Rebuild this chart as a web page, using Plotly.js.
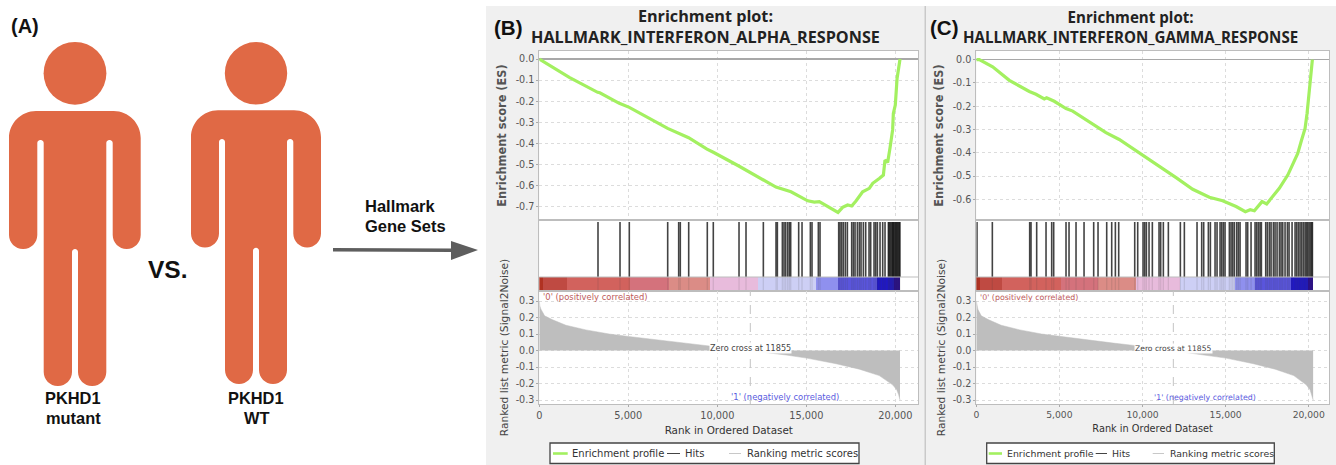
<!DOCTYPE html>
<html><head><meta charset="utf-8">
<script src="https://cdn.plot.ly/plotly-3.0.1.min.js"></script>
<style>html,body{margin:0;padding:0;background:#fff;overflow:hidden}</style>
</head><body><div id="chart" style="width:1336px;height:465px"></div>
<script>
const alphaEsRank=[0,1685,3277,3400,4494,5056,7210,7828,8390,9420,9775,11180,11610,12584,13296,14140,15080,15450,15730,16780,17040,17320,17550,17790,18165,18540,18730,19100,19330,19420,19570,19700,19850,19890,20000,20100,20265];
const alphaEs=[0,-0.087,-0.158,-0.16,-0.21,-0.229,-0.329,-0.352,-0.373,-0.427,-0.442,-0.506,-0.526,-0.573,-0.607,-0.629,-0.672,-0.678,-0.676,-0.727,-0.703,-0.692,-0.697,-0.673,-0.629,-0.613,-0.589,-0.566,-0.55,-0.479,-0.49,-0.423,-0.336,-0.258,-0.218,-0.092,0];
const gammaEsRank=[0,180,983,1986,3190,3590,4090,4230,4690,5400,5800,6800,7800,8600,10010,11010,12020,13020,14020,14820,15630,16190,16480,16730,17190,17470,17830,18230,18740,19040,19340,19540,19780,19900,19980,20080,20220];
const gammaEs=[0,0,-0.031,-0.089,-0.137,-0.149,-0.169,-0.164,-0.179,-0.21,-0.221,-0.267,-0.314,-0.343,-0.41,-0.456,-0.507,-0.557,-0.591,-0.606,-0.631,-0.653,-0.645,-0.649,-0.61,-0.62,-0.589,-0.553,-0.496,-0.453,-0.403,-0.353,-0.296,-0.231,-0.174,-0.089,0];
const alphaHits=[3298,4534,5056,7213,7831,7921,8393,9438,9775,11220,11613,12587,13299,13374,13655,13748,13842,13954,14048,14123,14572,14760,15228,15321,15677,15771,16820,16895,16988,17082,17194,17307,17550,17644,17738,17869,17981,18075,18206,18337,18524,18618,18805,18899,18993,19142,19292,19423,19611,19650,19704,19760,19817,19860,19892,19930,19985,20030,20079,20120,20172,20220,20260];
const gammaHits=[42,965,3212,3292,3633,4195,4536,4656,5398,5579,6000,6482,7063,7324,7846,8147,8367,8568,9531,9711,10032,10133,10233,10393,10592,10994,11094,11254,11555,12277,12518,13280,13561,13682,13962,14083,14364,14484,14665,14765,14865,14966,15226,15327,15427,15527,15668,15768,15869,16229,16329,16530,16771,16871,16971,17072,17152,17413,17513,17633,17734,17874,17974,18095,18235,18335,18436,18576,18717,18817,18998,19178,19278,19379,19479,19580,19680,19780,19860,19940,20020,20100,20181,20221];
const metricRank=[0,30,94,300,750,1500,2620,3930,5020,6370,8240,9740,11855,13860,15020,16670,17980,19100,19850,20080,20190,20265];
const metricScore=[0.3,0.27,0.25,0.21,0.186,0.153,0.125,0.1,0.085,0.068,0.045,0.028,0,-0.027,-0.046,-0.08,-0.113,-0.152,-0.208,-0.238,-0.268,-0.3];
const bandEdges=[0,225,1555,5113,7300,9590,12270,15550,16760,18950,19950,20265];
const bandColors=['#B03222','#BF4A42','#D2625D','#D4727C','#DB8C86','#E8BBDC','#CDCFF5','#8F90EE','#5A55DC','#2018C4','#2A0C90'];
const xTicks=[0,5000,10000,15000,20000];
const xTickText=['0','5,000','10,000','15,000','20,000'];
const alphaEsTicks=[0,-0.1,-0.2,-0.3,-0.4,-0.5,-0.6,-0.7];
const alphaEsText=['0.0','-0.1','-0.2','-0.3','-0.4','-0.5','-0.6','-0.7'];
const gammaEsTicks=[0,-0.1,-0.2,-0.3,-0.4,-0.5,-0.6];
const gammaEsText=['0.0','-0.1','-0.2','-0.3','-0.4','-0.5','-0.6'];
const metricTicks=[0.3,0.2,0.1,0,-0.1,-0.2,-0.3];
const metricText=['0.3','0.2','0.1','0.0','-0.1','-0.2','-0.3'];

const W=1336,H=465;
const px=x=>x/W, py=y=>1-y/H;
const FONT='"DejaVu Sans",sans-serif', BOLD='"Liberation Sans",Arial,sans-serif', TITLE='"Open Sans",sans-serif';
const TICK='#555',FRAME='#BDBDBD',GRID='#DCDCDC';
const ORANGE='#E06945',GREEN='#A3F060';

function rounded(v){
  let d='';
  const n=v.length;
  for(let i=0;i<n;i++){
    const [x,y,r]=v[i],[x0,y0]=v[(i+n-1)%n],[x1,y1]=v[(i+1)%n];
    const l0=Math.hypot(x0-x,y0-y),l1=Math.hypot(x1-x,y1-y);
    const ax=x+(x0-x)*r/l0,ay=y+(y0-y)*r/l0,bx=x+(x1-x)*r/l1,by=y+(y1-y)*r/l1;
    const k=0.45;
    const c1x=ax+(x-ax)*(1-k),c1y=ay+(y-ay)*(1-k),c2x=bx+(x-bx)*(1-k),c2y=by+(y-by)*(1-k);
    d+=(i?'L':'M')+px(ax)+','+py(ay)+' C'+px(c1x)+','+py(c1y)+' '+px(c2x)+','+py(c2y)+' '+px(bx)+','+py(by)+' ';
  }
  return d+'Z';
}
function person(p){
  const v=[[p.L,p.top,27],[p.R,p.top,27],[p.R,p.armB,14],[p.arm2,p.armB,14],[p.arm2,p.gapT,3],[p.torR,p.gapT,3],
    [p.torR,p.bot,14],[p.legR,p.bot,14],[p.legR,p.legT,3],[p.legL,p.legT,3],[p.legL,p.bot,14],[p.torL,p.bot,14],
    [p.torL,p.gapT,3],[p.arm1,p.gapT,3],[p.arm1,p.armB,14],[p.L,p.armB,14]];
  return [
    {type:'path',xref:'paper',yref:'paper',path:rounded(v),fillcolor:ORANGE,line:{width:0}},
    {type:'circle',xref:'paper',yref:'paper',x0:px(p.cx-p.r),x1:px(p.cx+p.r),y0:py(p.cy+p.r),y1:py(p.cy-p.r),fillcolor:ORANGE,line:{width:0}}
  ];
}
function rect(x0,y0,x1,y1,fill,line,layer){
  return {type:'rect',xref:'paper',yref:'paper',x0:px(x0),x1:px(x1),y0:py(y1),y1:py(y0),fillcolor:fill,line:line||{width:0},layer:layer||'below'};
}
function hline(x0,x1,y,color,w){
  return {type:'line',xref:'paper',yref:'paper',x0:px(x0),x1:px(x1),y0:py(y),y1:py(y),line:{color:color,width:w}};
}
function text(x,y,t,size,opt){
  opt=opt||{};
  return {xref:'paper',yref:'paper',x:px(x),y:py(y),text:t,showarrow:false,xanchor:opt.anchor||'center',yanchor:'middle',
    font:{family:opt.family||BOLD,size:size,color:opt.color||'#111',weight:opt.weight||400}};
}

const shapes=[],annotations=[],data=[];
const layout={width:W,height:H,margin:{l:0,r:0,t:0,b:0},paper_bgcolor:'#fff',plot_bgcolor:'#fff',showlegend:false,shapes,annotations,font:{family:FONT},bargap:0,barmode:'overlay'};

// Panel A
shapes.push(...person({cx:75,cy:73.3,r:31.4,L:9,R:140.7,top:111,armB:249,gapT:140,bot:386,arm1:37.3,torL:43.7,torR:106.3,arm2:112.7,legL:72,legR:78,legT:249}));
shapes.push(...person({cx:256,cy:73.3,r:31.2,L:191,R:321,top:110.3,armB:247.5,gapT:139,bot:384,arm1:219,torL:225,torR:287,arm2:293.3,legL:253,legR:259,legT:247.7}));
shapes.push({type:'line',xref:'paper',yref:'paper',x0:px(333),x1:px(452),y0:py(249.7),y1:py(250.2),line:{color:'#5E5E5E',width:3.5}});
shapes.push({type:'path',xref:'paper',yref:'paper',path:`M${px(451)},${py(241)} L${px(478)},${py(250)} L${px(451)},${py(260)} Z`,fillcolor:'#5E5E5E',line:{width:0}});
annotations.push(text(25,26,'(A)',20,{weight:700}));
annotations.push(text(73,398,'PKHD1',16.4,{weight:700}));
annotations.push(text(73,418,'mutant',16.4,{weight:700}));
annotations.push(text(256,398,'PKHD1',16.4,{weight:700}));
annotations.push(text(256,418,'WT',16.4,{weight:700}));
annotations.push(text(168,269,'VS.',24.5,{weight:700}));
annotations.push(text(363,206,'Hallmark',16.5,{weight:700,anchor:'left'}));
annotations.push(text(363,226,'Gene Sets',16.5,{weight:700,anchor:'left'}));

function panel(o){
  const sx=i=>i===1?'':String(i);
  const xa=o.base+1,xb=o.base+2,xc=o.base+3;
  const dom=[px(o.x0),px(o.x1)];
  const f=o.fs;
  shapes.push(rect(o.bgx0,6,o.bgx1,465,'#F0F0F0'));
  shapes.push(rect(o.x0,51,o.x1,404,'#FFFFFF'));
  const commonX={domain:dom,range:[0,o.xMax],tickmode:'array',tickvals:xTicks,showline:true,linecolor:FRAME,linewidth:1,mirror:true,zeroline:false,fixedrange:true,layer:'below traces'};
  const commonY={tickfont:{size:9.6,color:TICK,family:FONT},showline:true,linecolor:FRAME,linewidth:1,mirror:true,ticks:'outside',ticklen:2,tickcolor:'#AAA',fixedrange:true,gridcolor:GRID,griddash:'dot',gridwidth:1};
  layout['xaxis'+sx(xa)]=Object.assign({},commonX,{anchor:'y'+sx(xa),showticklabels:false,showgrid:true,gridcolor:GRID,griddash:'dot',ticks:''});
  layout['yaxis'+sx(xa)]=Object.assign({},commonY,{domain:[py(220),py(51)],anchor:'x'+sx(xa),range:o.esRange,tickmode:'array',tickvals:o.esTicks,ticktext:o.esText,zeroline:true,zerolinecolor:'#A8A8A8',zerolinewidth:1.2,
    title:{text:'Enrichment score (ES)',font:{size:11.4,color:'#555',family:FONT,weight:600},standoff:o.esStand}});
  layout['xaxis'+sx(xb)]=Object.assign({},commonX,{anchor:'y'+sx(xb),showticklabels:false,showgrid:false,ticks:''});
  layout['yaxis'+sx(xb)]={domain:[py(291),py(220)],anchor:'x'+sx(xb),range:[0,1],showticklabels:false,showgrid:false,zeroline:false,showline:true,linecolor:FRAME,linewidth:1,mirror:true,fixedrange:true};
  layout['xaxis'+sx(xc)]=Object.assign({},commonX,{anchor:'y'+sx(xc),ticktext:xTickText,showgrid:true,gridcolor:GRID,griddash:'dot',ticks:'outside',ticklen:2,tickcolor:'#AAA',tickfont:{size:9.8*f,color:TICK,family:FONT},
    title:{text:'Rank in Ordered Dataset',font:{size:10.4*f,color:'#333',family:FONT},standoff:6}});
  layout['yaxis'+sx(xc)]=Object.assign({},commonY,{domain:[py(404),py(291)],anchor:'x'+sx(xc),range:[-0.324,0.3606],tickmode:'array',tickvals:metricTicks,ticktext:metricText,zeroline:false,
    title:{text:'Ranked list metric (Signal2Noise)',font:{size:10.7,color:'#444',family:FONT},standoff:o.mStand}});

  data.push({type:'scatter',mode:'lines',name:'Enrichment profile',x:o.esRank,y:o.es,xaxis:'x'+sx(xa),yaxis:'y'+sx(xa),line:{color:GREEN,width:3.2},hoverinfo:'skip'});

  const lefts=bandEdges.slice(0,-1),widths=lefts.map((l,i)=>bandEdges[i+1]-l);
  data.push({type:'bar',name:'bands',x:lefts.map((l,i)=>l+widths[i]/2),width:widths,y:lefts.map(()=>0.197),base:0,xaxis:'x'+sx(xb),yaxis:'y'+sx(xb),marker:{color:bandColors,line:{width:0}},hoverinfo:'skip'});
  const hx=[],hy=[],fx=[],fy=[];
  o.hits.forEach(h=>{hx.push(h,h,null);hy.push(0.197,0.972,null);fx.push(h,h,null);fy.push(0,0.197,null);});
  data.push({type:'scatter',mode:'lines',name:'Hits',x:hx,y:hy,xaxis:'x'+sx(xb),yaxis:'y'+sx(xb),line:{color:'rgba(20,20,20,0.8)',width:1.6},hoverinfo:'skip'});
  data.push({type:'scatter',mode:'lines',name:'Hits over bands',x:fx,y:fy,xaxis:'x'+sx(xb),yaxis:'y'+sx(xb),line:{color:'rgba(60,60,60,0.13)',width:1.3},hoverinfo:'skip'});
  shapes.push(hline(o.x0,o.x1,277,FRAME,1));

  data.push({type:'scatter',mode:'lines',name:'Ranking metric scores',x:metricRank,y:metricScore,fill:'tozeroy',fillcolor:'#BEBEBE',line:{color:'#BEBEBE',width:0.5},xaxis:'x'+sx(xc),yaxis:'y'+sx(xc),hoverinfo:'skip'});
  shapes.push({type:'line',xref:'x'+sx(xc),yref:'paper',x0:11855,x1:11855,y0:py(404),y1:py(291),line:{color:'#C4C4C4',width:1,dash:'dash'}});

  annotations.push({xref:'x'+sx(xc),yref:'y'+sx(xc),x:11855,y:0.014,text:'Zero cross at 11855',showarrow:false,font:{size:8.1*f,color:'#444',family:FONT},bgcolor:'rgba(255,255,255,0.95)',borderpad:0,xanchor:'center',yanchor:'middle'});
  annotations.push(text(o.x0+2,297,"'0' (positively correlated)",8.4*f,{family:FONT,anchor:'left',color:'#BE5A5A'}));
  annotations.push(text(o.negX,397,"'1' (negatively correlated)",8.4*f,{family:FONT,anchor:'left',color:'#5A5AE0'}));

  annotations.push(text(o.titleX,26.5,'Enrichment plot:<br>'+o.title,o.ts,{family:TITLE,weight:700,color:'#222'}));
  annotations.push(text(o.tagX,27,o.tag,20.5,{weight:700}));

  // Legend box
  const L=o.legX;
  shapes.push(rect(L,443,L+o.legW,463.5,'#fff',{color:'#444',width:1.3},'above'));
  shapes.push(hline(L+o.g0,L+o.g1,453.5,GREEN,2.6));
  annotations.push(text(L+o.gt,453.5,'Enrichment profile',10*f,{family:FONT,anchor:'left',color:'#333'}));
  shapes.push(hline(L+o.h0,L+o.h1,453.5,'#444',1));
  annotations.push(text(L+o.ht,453.5,'Hits',10*f,{family:FONT,anchor:'left',color:'#333'}));
  shapes.push(hline(L+o.r0,L+o.r1,453.5,'#C8C8C8',1));
  annotations.push(text(L+o.rt,453.5,'Ranking metric scores',10*f,{family:FONT,anchor:'left',color:'#333'}));
}

panel({base:0,fs:1,ts:16.2,x0:539.3,x1:918.3,xMax:21292,bgx0:486,bgx1:925,esRange:[-0.763,0.038],esTicks:alphaEsTicks,esText:alphaEsText,esRank:alphaEsRank,es:alphaEs,hits:alphaHits,titleX:705,title:'HALLMARK_INTERFERON_ALPHA_RESPONSE',tag:'(B)',tagX:507.5,legX:550,legW:309,g0:3,g1:17.7,gt:20,h0:117,h1:130,ht:133.3,r0:179,r1:191,rt:194.7,negX:729,esStand:6,mStand:4});
panel({base:3,fs:0.94,ts:15.1,x0:976.3,x1:1329,xMax:21220,bgx0:926,bgx1:1336,esRange:[-0.689,0.037],esTicks:gammaEsTicks,esText:gammaEsText,esRank:gammaEsRank,es:gammaEs,hits:gammaHits,titleX:1130.5,title:'HALLMARK_INTERFERON_GAMMA_RESPONSE',tag:'(C)',tagX:943.5,legX:986.7,legW:287.6,g0:2,g1:15.3,gt:18,h0:109,h1:120.3,ht:123.6,r0:166,r1:177.3,rt:181,negX:1152,esStand:6,mStand:4});
shapes.push(rect(924.5,6,926,465,'#C9C9C9'));

Plotly.newPlot('chart',data,layout,{displayModeBar:false,staticPlot:true});
</script></body></html>
